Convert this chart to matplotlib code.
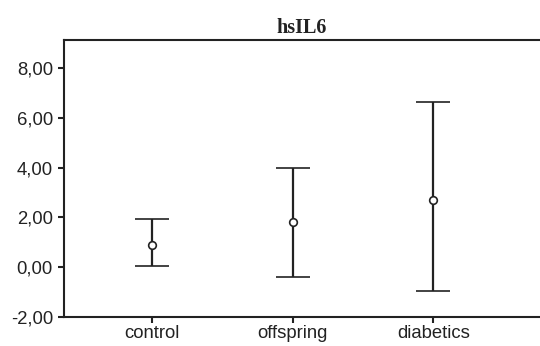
import matplotlib
matplotlib.use("Agg")
import matplotlib.pyplot as plt
from matplotlib.ticker import FuncFormatter

categories = ["control", "offspring", "diabetics"]
means = [0.90, 1.79, 2.71]
upper = [1.95, 4.00, 6.63]
lower = [0.02, -0.41, -0.98]
yticks = [-2, 0, 2, 4, 6, 8]
title = "hsIL6"

color = "#222222"
fig = plt.figure(figsize=(5.4, 3.46), dpi=100)
ax = fig.add_axes([64/540, 1 - 316.7/346, (540-64)/540, (316.7-40)/346])

x = list(range(1, len(categories) + 1))
yerr = [[m - l for m, l in zip(means, lower)], [u - m for u, m in zip(upper, means)]]
ax.errorbar(x, means, yerr=yerr, fmt="o", color=color, ecolor=color,
            elinewidth=1.6, capsize=12, capthick=1.6, markersize=5.5,
            markerfacecolor="white", markeredgecolor=color, markeredgewidth=1.2)

ax.set_xlim(0.3746, 3.758)
ax.set_ylim(-2, 9.13)
ax.set_xticks(x)
ax.set_xticklabels(categories)
ax.set_yticks(yticks)
ax.yaxis.set_major_formatter(FuncFormatter(lambda v, p: f"{v:.2f}".replace(".", ",")))

for s in ["left", "bottom", "top"]:
    ax.spines[s].set_linewidth(1.5)
    ax.spines[s].set_color(color)
ax.spines["right"].set_visible(False)

ax.tick_params(axis="both", length=4, width=1.5, color=color, labelcolor=color,
               labelsize=13.3)
ax.tick_params(axis="y", pad=4)
ax.tick_params(axis="x", pad=2)
for lab in ax.get_xticklabels() + ax.get_yticklabels():
    lab.set_family(["Liberation Sans", "DejaVu Sans"])

ax.set_title(title, fontsize=14.5, fontweight="bold", family=["Liberation Serif", "DejaVu Serif"],
             color=color, pad=5)

fig.savefig("out.png", dpi=100)
